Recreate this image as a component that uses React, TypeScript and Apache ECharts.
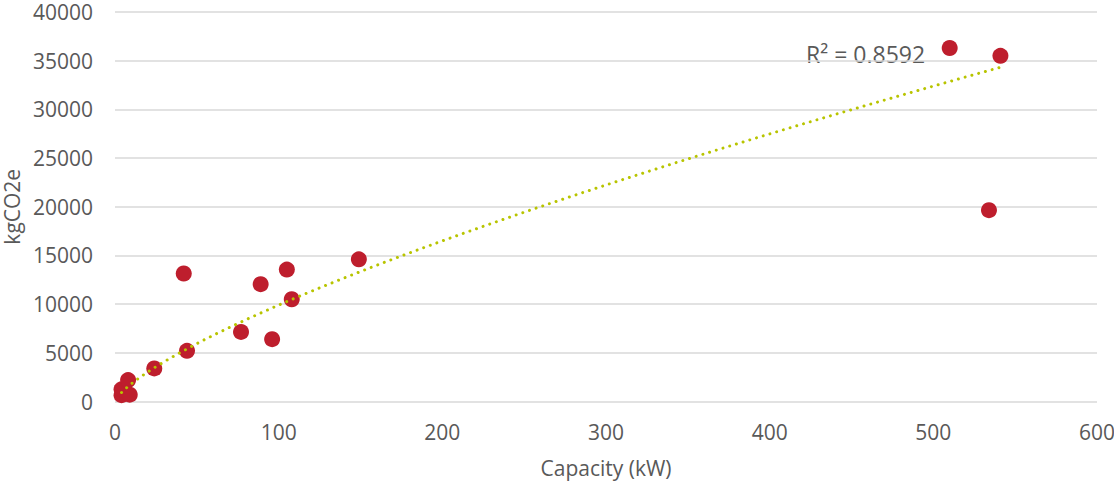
import React, { useEffect, useRef } from "react";
import * as echarts from "echarts";

const capacityKW = [4, 4, 8, 9, 24, 44, 42, 77, 96, 89, 105, 108, 149, 510, 541, 534];
const emissions = [650, 1250, 2200, 700, 3400, 5200, 13150, 7150, 6400, 12050, 13550, 10500, 14600, 36300, 35500, 19650];
const r2Label = "R² = 0.8592";
const xTitle = "Capacity (kW)";
const yTitle = "kgCO2e";

// power trendline fitted (least squares in log-log space) from the data
function powerFit(xs: number[], ys: number[]) {
  const lx = xs.map(Math.log);
  const ly = ys.map(Math.log);
  const n = xs.length;
  const mx = lx.reduce((a, b) => a + b, 0) / n;
  const my = ly.reduce((a, b) => a + b, 0) / n;
  let sxy = 0, sxx = 0;
  for (let i = 0; i < n; i++) {
    sxy += (lx[i] - mx) * (ly[i] - my);
    sxx += (lx[i] - mx) * (lx[i] - mx);
  }
  const b = sxy / sxx;
  const a = Math.exp(my - b * mx);
  return { a, b };
}

export default function App() {
  const ref = useRef<HTMLDivElement>(null);
  useEffect(() => {
    if (!ref.current) return;
    const chart = echarts.init(ref.current, null, { renderer: "svg" });
    const { a, b } = powerFit(capacityKW, emissions);
    const xmin = Math.min(...capacityKW);
    const xmax = Math.max(...capacityKW);
    const trend: number[][] = [];
    const steps = 200;
    for (let i = 0; i <= steps; i++) {
      const x = xmin + ((xmax - xmin) * i) / steps;
      trend.push([x, a * Math.pow(x, b)]);
    }
    const font = "'Open Sans', sans-serif";
    const grey = "#595959";
    chart.setOption({
      animation: false,
      textStyle: { fontFamily: font },
      grid: {
        left: 115,
        right: 17,
        top: 12,
        bottom: 79.5,
        containLabel: false,
        outerBoundsMode: "none",
      },
      xAxis: {
        type: "value",
        min: 0,
        max: 600,
        interval: 100,
        name: xTitle,
        nameLocation: "middle",
        nameGap: 56,
        nameTextStyle: { color: grey, fontSize: 21, fontFamily: font },
        axisLine: { show: false },
        axisTick: { show: false },
        splitLine: { show: false },
        axisLabel: { color: grey, fontSize: 21, fontFamily: font, margin: 20, formatter: (v: number) => String(v) },
      },
      yAxis: {
        type: "value",
        min: 0,
        max: 40000,
        interval: 5000,
        name: yTitle,
        nameLocation: "middle",
        nameGap: 91,
        nameTextStyle: { color: grey, fontSize: 21, fontFamily: font, lineHeight: 21 },
        axisLine: { show: false },
        axisTick: { show: false },
        splitLine: { show: true, lineStyle: { color: "#D9D9D9", width: 1.5 } },
        axisLabel: {
          color: grey,
          fontSize: 21,
          lineHeight: 21,
          fontFamily: font,
          margin: 22,
          formatter: (v: number) => String(v),
        },
      },
      graphic: [
        {
          type: "text",
          left: 806,
          top: 42,
          style: { text: r2Label, fill: grey, fontSize: 23, fontFamily: font },
        },
      ],
      series: [
        {
          type: "scatter",
          data: capacityKW.map((x, i) => [x, emissions[i]]),
          symbol: "circle",
          symbolSize: 16,
          itemStyle: { color: "#BE1E2D", opacity: 1 },
          z: 2,
        },
        {
          type: "line",
          data: trend,
          showSymbol: false,
          symbol: "none",
          smooth: false,
          lineStyle: { color: "#B8C400", width: 3, type: [0.01, 7], cap: "round" },
          z: 3,
        },
      ],
    });
    return () => chart.dispose();
  }, []);
  return (
    <div
      ref={ref}
      style={{ position: "absolute", left: 0, top: 0, width: 1114, height: 481 }}
    />
  );
}
